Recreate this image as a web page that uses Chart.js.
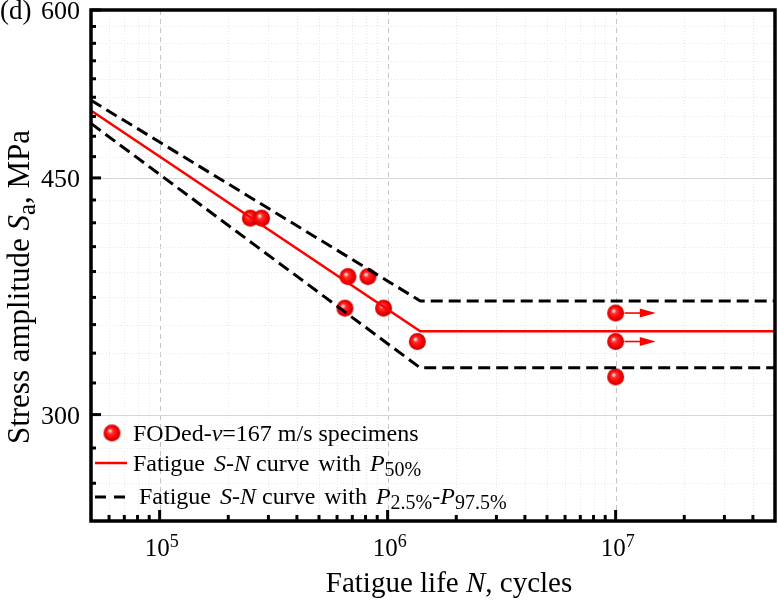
<!DOCTYPE html>
<html>
<head>
<meta charset="utf-8">
<script src="https://cdn.jsdelivr.net/npm/chart.js@4.4.1/dist/chart.umd.min.js"></script>
<style>
html,body{margin:0;padding:0;background:#fff;}
#wrap{width:778px;height:602px;position:relative;}
</style>
</head>
<body>
<div id="wrap"><canvas id="c" width="778" height="602"></canvas></div>
<script>
// ---------- data ----------
const specimenN = [2.5e5, 2.8e5, 6.7e5, 8.2e5, 6.5e5, 9.6e5, 1.35e6, 1e7, 1e7, 1e7];
const specimenS = [420, 420, 380, 380, 360, 360, 340, 357, 340, 320];
const runoutIdx = [7, 8];
const arrowEndN = 1.5e7;

const curveN = [5e4, 1.39e6, 5e7];
const p50S = [505, 346, 346];
const p975S = [514, 364.5, 364.5];
const p25S = [494, 325, 325];

const xMajorTicks = [1e5, 1e6, 1e7];
const xMinorTicks = [6e4, 7e4, 8e4, 9e4, 2e5, 3e5, 4e5, 5e5, 6e5, 7e5, 8e5, 9e5,
  2e6, 3e6, 4e6, 5e6, 6e6, 7e6, 8e6, 9e6, 2e7, 3e7, 4e7];
const xTickLabels = ['10|5', '10|6', '10|7'];
const yMajorTicks = [300, 450, 600];
const yMinorTicks = [266.7, 283.3, 316.7, 333.3, 350, 366.7, 383.3, 400, 416.7, 433.3,
  466.7, 483.3, 500, 516.7, 533.3, 550, 566.7, 583.3];
const yTickLabels = ['300', '450', '600'];

const FONT = '"Liberation Serif", "Times New Roman", serif';

// ---------- sphere marker ----------
function sphere(r) {
  const c = document.createElement('canvas');
  const s = Math.ceil(2 * r + 2);
  c.width = s; c.height = s;
  const g = c.getContext('2d');
  const cx = s / 2, cy = s / 2;
  const grad = g.createRadialGradient(cx - 0.28 * r, cy - 0.3 * r, 0, cx, cy, r);
  grad.addColorStop(0, '#ffffff');
  grad.addColorStop(0.1, '#ffd0d0');
  grad.addColorStop(0.3, '#ff3030');
  grad.addColorStop(0.7, '#f80000');
  grad.addColorStop(1, '#c00000');
  g.fillStyle = grad;
  g.beginPath(); g.arc(cx, cy, r, 0, Math.PI * 2); g.fill();
  return c;
}
const ball = sphere(8.5);

function pts(xs, ys) { return xs.map((x, i) => ({x: x, y: ys[i]})); }

// ---------- rich text ----------
function rich(ctx, runs, x, y, size, align) {
  const fontOf = r => (r.i ? 'italic ' : '') + Math.round(size * ((r.sub || r.sup) ? (r.k || 0.75) : 1)) + 'px ' + FONT;
  let total = 0;
  runs.forEach(r => { ctx.font = fontOf(r); r.w = ctx.measureText(r.t).width + (r.g || 0); total += r.w; });
  let cx = x;
  if (align === 'center') cx = x - total / 2;
  else if (align === 'right') cx = x - total;
  ctx.textAlign = 'left';
  ctx.textBaseline = 'alphabetic';
  runs.forEach(r => {
    ctx.font = fontOf(r);
    let dy = 0;
    if (r.sub) dy = size * (r.d || 0.22);
    if (r.sup) dy = -size * (r.d || 0.4);
    ctx.fillText(r.t, cx, y + dy);
    cx += r.w;
  });
  return total;
}

// ---------- decoration plugin ----------
const deco = {
  id: 'deco',
  beforeDatasetsDraw(chart) {
    const ctx = chart.ctx, a = chart.chartArea;
    const xs = chart.scales.x, ys = chart.scales.y;
    ctx.save();
    ctx.beginPath(); ctx.rect(a.left, a.top, a.right - a.left, a.bottom - a.top); ctx.clip();
    ctx.lineWidth = 1;
    xs.ticks.forEach(t => {
      const px = Math.round(xs.getPixelForValue(t.value)) + 0.5;
      ctx.strokeStyle = t.major ? '#c4c4c4' : '#e6e6e6';
      ctx.setLineDash(t.major ? [5, 4] : [1, 2]);
      ctx.beginPath(); ctx.moveTo(px, a.top); ctx.lineTo(px, a.bottom); ctx.stroke();
    });
    ys.ticks.forEach(t => {
      const py = Math.round(ys.getPixelForValue(t.value)) + 0.5;
      ctx.strokeStyle = t.major ? '#d6d6d6' : '#e6e6e6';
      ctx.setLineDash(t.major ? [] : [1, 2]);
      ctx.beginPath(); ctx.moveTo(a.left, py); ctx.lineTo(a.right, py); ctx.stroke();
    });
    ctx.restore();
  },
  afterDatasetsDraw(chart) {
    const ctx = chart.ctx, a = chart.chartArea;
    const xs = chart.scales.x, ys = chart.scales.y;
    ctx.save();
    // run-out arrows
    ctx.strokeStyle = '#ff0000'; ctx.fillStyle = '#ff0000'; ctx.lineWidth = 1.6;
    runoutIdx.forEach(i => {
      const x0 = xs.getPixelForValue(specimenN[i]) + 9;
      const x1 = xs.getPixelForValue(arrowEndN);
      const y = ys.getPixelForValue(specimenS[i]);
      ctx.beginPath(); ctx.moveTo(x0, y); ctx.lineTo(x1 - 12, y); ctx.stroke();
      ctx.beginPath(); ctx.moveTo(x1, y); ctx.lineTo(x1 - 16, y - 4.5); ctx.lineTo(x1 - 16, y + 4.5); ctx.closePath(); ctx.fill();
    });
    // ticks (inward)
    ctx.strokeStyle = '#000'; ctx.lineWidth = 3;
    xs.ticks.forEach(t => {
      const px = xs.getPixelForValue(t.value);
      const L = t.major ? 11 : 6;
      ctx.beginPath(); ctx.moveTo(px, a.bottom); ctx.lineTo(px, a.bottom - L); ctx.stroke();
    });
    ys.ticks.forEach(t => {
      const py = ys.getPixelForValue(t.value);
      const L = t.major ? 10 : 5;
      ctx.beginPath(); ctx.moveTo(a.left, py); ctx.lineTo(a.left + L, py); ctx.stroke();
    });
    // frame
    ctx.lineWidth = 3.5;
    ctx.strokeRect(a.left, a.top, a.right - a.left, a.bottom - a.top);
    // tick labels
    ctx.fillStyle = '#000';
    xMajorTicks.forEach((v, i) => {
      const [base, ex] = xTickLabels[i].split('|');
      rich(ctx, [{t: base}, {t: ex, sup: true, k: 0.72, d: 0.38}], xs.getPixelForValue(v) + 2, 556, 25, 'center');
    });
    yMajorTicks.forEach((v, i) => {
      rich(ctx, [{t: yTickLabels[i]}], 80, ys.getPixelForValue(v) + 9, 26, 'right');
    });
    // panel label
    rich(ctx, [{t: '(d)'}], 0, ys.getPixelForValue(600) + 9, 27, 'left');
    // axis titles
    rich(ctx, [{t: 'Fatigue life '}, {t: 'N', i: true}, {t: ', cycles'}], 449, 592, 29, 'center');
    ctx.save();
    ctx.translate(29, 287);
    ctx.rotate(-Math.PI / 2);
    rich(ctx, [{t: 'Stress amplitude '}, {t: 'S', i: true}, {t: 'a', sub: true, k: 0.8, d: 0.2}, {t: ', MPa'}], 0, 0, 31, 'center');
    ctx.restore();
    // legend
    const lx = a.left, fs = 24;
    ctx.drawImage(ball, lx + 21 - ball.width / 2, 433 - ball.height / 2);
    rich(ctx, [{t: 'FODed-'}, {t: 'v', i: true}, {t: '=167 m/s specimens'}], lx + 42, 441, fs, 'left');
    ctx.strokeStyle = '#ff0000'; ctx.lineWidth = 2.5; ctx.setLineDash([]);
    ctx.beginPath(); ctx.moveTo(lx + 4, 463); ctx.lineTo(lx + 36, 463); ctx.stroke();
    rich(ctx, [{t: 'Fatigue ', g: 3}, {t: 'S', i: true}, {t: '-'}, {t: 'N', i: true}, {t: ' curve ', g: 3}, {t: 'with ', g: 3}, {t: 'P', i: true},
      {t: '50%', sub: true, k: 0.85, d: 0.2}], lx + 42, 471, fs, 'left');
    ctx.strokeStyle = '#000'; ctx.lineWidth = 3; ctx.setLineDash([11, 8]);
    ctx.beginPath(); ctx.moveTo(lx + 4, 497); ctx.lineTo(lx + 36, 497); ctx.stroke();
    ctx.setLineDash([]);
    rich(ctx, [{t: 'Fatigue ', g: 3}, {t: 'S', i: true}, {t: '-'}, {t: 'N', i: true}, {t: ' curve ', g: 3}, {t: 'with ', g: 3}, {t: 'P', i: true},
      {t: '2.5%', sub: true, k: 0.85, d: 0.2}, {t: '-'}, {t: 'P', i: true}, {t: '97.5%', sub: true, k: 0.85, d: 0.2}], lx + 48, 504, fs, 'left');
    ctx.restore();
  }
};

new Chart(document.getElementById('c'), {
  type: 'scatter',
  data: {
    datasets: [
      {label: 'FODed-v=167 m/s specimens', data: pts(specimenN, specimenS), pointStyle: ball,
        pointRadius: 8.5, showLine: false, order: 3},
      {label: 'Fatigue S-N curve with P50%', type: 'line', data: pts(curveN, p50S), borderColor: '#ff0000',
        borderWidth: 2.5, pointRadius: 0, fill: false, tension: 0, order: 1},
      {label: 'Fatigue S-N curve with P97.5%', type: 'line', data: pts(curveN, p975S), borderColor: '#000000',
        borderWidth: 3, borderDash: [12, 6], pointRadius: 0, fill: false, tension: 0, order: 2},
      {label: 'Fatigue S-N curve with P2.5%', type: 'line', data: pts(curveN, p25S), borderColor: '#000000',
        borderWidth: 3, borderDash: [12, 6], pointRadius: 0, fill: false, tension: 0, order: 2}
    ]
  },
  options: {
    responsive: false,
    animation: false,
    layout: {autoPadding: false, padding: {left: 91, top: 10, right: 3, bottom: 81}},
    plugins: {legend: {display: false}, tooltip: {enabled: false}},
    scales: {
      x: {
        type: 'logarithmic', min: 5e4, max: 5e7,
        afterBuildTicks: s => {
          s.ticks = xMajorTicks.map(v => ({value: v, major: true}))
            .concat(xMinorTicks.map(v => ({value: v, major: false})));
        },
        grid: {display: false, drawTicks: false},
        border: {display: false},
        ticks: {display: false},
        title: {display: false}
      },
      y: {
        type: 'logarithmic', min: 250, max: 600,
        afterBuildTicks: s => {
          s.ticks = yMajorTicks.map(v => ({value: v, major: true}))
            .concat(yMinorTicks.map(v => ({value: v, major: false})));
        },
        grid: {display: false, drawTicks: false},
        border: {display: false},
        ticks: {display: false},
        title: {display: false}
      }
    }
  },
  plugins: [deco]
});
</script>
</body>
</html>
